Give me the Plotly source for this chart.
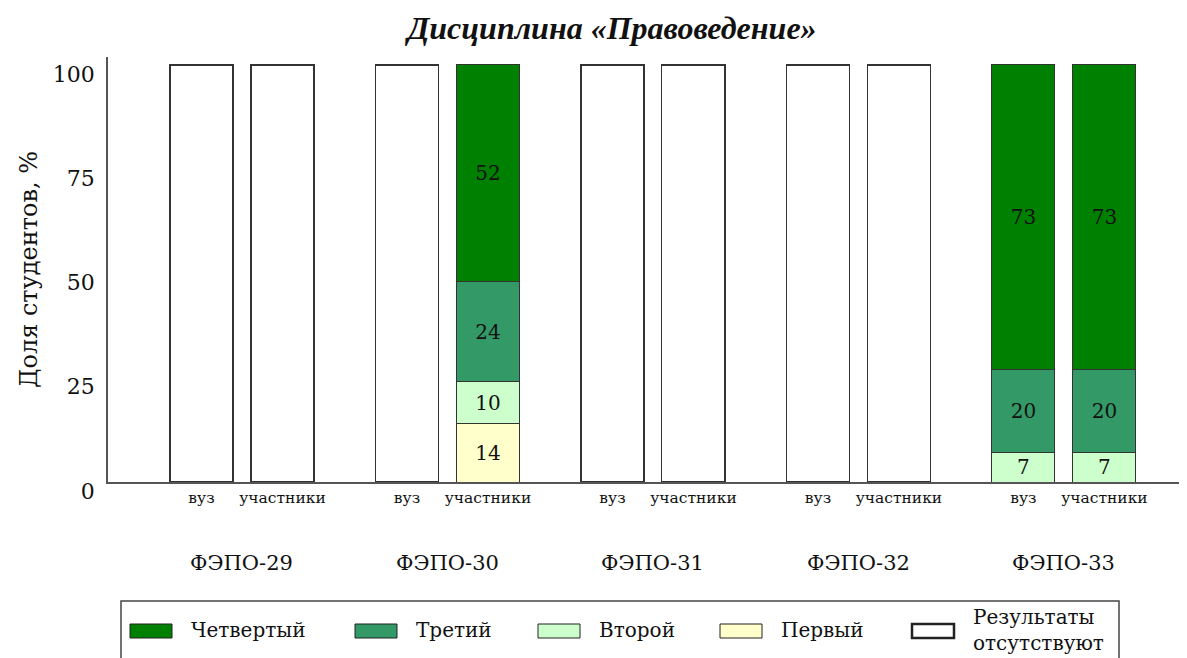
import plotly.graph_objects as go

# ---------------- data ----------------
groups = ["ФЭПО-29", "ФЭПО-30", "ФЭПО-31", "ФЭПО-32", "ФЭПО-33"]
subgroups = ["вуз", "участники"]

# values per bar, ordered: group1-вуз, group1-участники, group2-вуз, ...
level_first = [0, 0, 0, 14, 0, 0, 0, 0, 0, 0]
level_second = [0, 0, 0, 10, 0, 0, 0, 0, 7, 7]
level_third = [0, 0, 0, 24, 0, 0, 0, 0, 20, 20]
level_fourth = [0, 0, 0, 52, 0, 0, 0, 0, 73, 73]
no_results = [100, 100, 100, 0, 100, 100, 100, 100, 0, 0]

series_names = ["Первый", "Второй", "Третий", "Четвертый"]
series_values = [level_first, level_second, level_third, level_fourth]
series_colors = ["#FFFFCC", "#CCFFCC", "#339966", "#008000"]
absent_name = "Результаты<br>отсутствуют"
absent_color = "white"

y_ticks = [0, 25, 50, 75, 100]

# ---------------- geometry ----------------
# The page body has an 8px margin, so the figure is drawn 8px smaller
# and every screen position below is given in window pixels.
BODY = 8
W, H = 1187 - BODY, 658 - BODY
PL, PR, PT, PB = 108 - BODY, 1187 - BODY, 57 - BODY, 482 - BODY  # plot area (figure px)


def px_x(sx):
    return (sx - BODY - PL) / (PR - PL)


def px_y(sy):
    return (PB - (sy - BODY)) / (PB - PT)


sub_offset = 0.197
bar_width = 0.307
x_pos = []
x_labels = []
for gi, _g in enumerate(groups):
    for si, s in enumerate(subgroups):
        x_pos.append(gi + (-sub_offset if si == 0 else sub_offset))
        x_labels.append(s)

SERIF = "DejaVu Serif, Liberation Serif, serif"
LINE = "#333333"
TXT = "#111111"

fig = go.Figure()

for name, vals, col in zip(series_names, series_values, series_colors):
    fig.add_trace(go.Bar(
        x=x_pos,
        y=[v if v else None for v in vals],
        width=bar_width,
        name=name,
        marker=dict(color=col, line=dict(color=LINE, width=1)),
        text=[str(v) if v else "" for v in vals],
        textposition="inside",
        insidetextanchor="middle",
        constraintext="none",
        textangle=0,
        textfont=dict(family=SERIF, size=20, color=TXT),
        hoverinfo="skip",
        showlegend=False,
    ))

fig.add_trace(go.Bar(
    x=x_pos,
    y=[v if v else None for v in no_results],
    width=bar_width,
    name=absent_name,
    marker=dict(color=absent_color, line=dict(color=LINE, width=1.2)),
    hoverinfo="skip",
    showlegend=False,
))

# group labels under the sub-category labels
for gi, g in enumerate(groups):
    fig.add_annotation(
        x=gi, xref="x", y=px_y(563), yref="paper",
        text=g, showarrow=False,
        font=dict(family=SERIF, size=21, color=TXT),
        xanchor="center", yanchor="middle",
    )

# ---------------- legend (drawn box, wide swatches) ----------------
fig.add_shape(type="rect", xref="paper", yref="paper",
              x0=px_x(121), x1=px_x(1119), y0=px_y(601), y1=px_y(680),
              line=dict(color="#444444", width=1.5), fillcolor="white", layer="above")

legend_names = [series_names[3], series_names[2], series_names[1], series_names[0], absent_name]
legend_colors = [series_colors[3], series_colors[2], series_colors[1], series_colors[0], absent_color]
legend_swatch_left = [130, 355, 538, 720, 912]
for i, (nm, col, sx) in enumerate(zip(legend_names, legend_colors, legend_swatch_left)):
    is_absent = i == len(legend_names) - 1
    fig.add_shape(type="rect", xref="paper", yref="paper",
                  x0=px_x(sx), x1=px_x(sx + 42), y0=px_y(638), y1=px_y(624),
                  fillcolor=col,
                  line=dict(color="#222222", width=2.5 if is_absent else 1),
                  layer="above")
    fig.add_annotation(
        x=px_x(sx + 59), xref="paper", y=px_y(630), yref="paper",
        text=nm, showarrow=False, align="left",
        font=dict(family=SERIF, size=20, color=TXT),
        xanchor="left", yanchor="middle",
    )

fig.update_layout(
    barmode="stack",
    width=W, height=H,
    paper_bgcolor="white", plot_bgcolor="white",
    margin=dict(l=PL, r=W - PR, t=PT, b=H - PB, autoexpand=False),
    showlegend=False,
    title=dict(
        text="<b><i>Дисциплина «Правоведение»</i></b>",
        font=dict(family="Liberation Serif, Times New Roman, serif", size=32, color=TXT),
        x=(612 - BODY) / W, xanchor="center", xref="container",
        y=1 - (28 - BODY) / H, yanchor="middle", yref="container",
    ),
    xaxis=dict(
        range=[-0.652, 4.599],
        tickvals=x_pos, ticktext=x_labels,
        tickfont=dict(family=SERIF, size=15.5, color=TXT),
        ticks="", showgrid=False, zeroline=False,
        showline=True, linecolor="#555555", linewidth=1.5,
        ticklabelstandoff=1, automargin=False,
    ),
    yaxis=dict(
        range=[0, 101.9],
        tickvals=y_ticks,
        tickfont=dict(family=SERIF, size=22, color=TXT),
        ticks="", showgrid=False, zeroline=False,
        showline=True, linecolor="#555555", linewidth=1.5,
        ticklabelshift=9, ticklabelstandoff=7, automargin=False,
        title=dict(text="Доля студентов, %", font=dict(family=SERIF, size=24, color=TXT), standoff=8),
    ),
)

fig.write_html("out.html")
